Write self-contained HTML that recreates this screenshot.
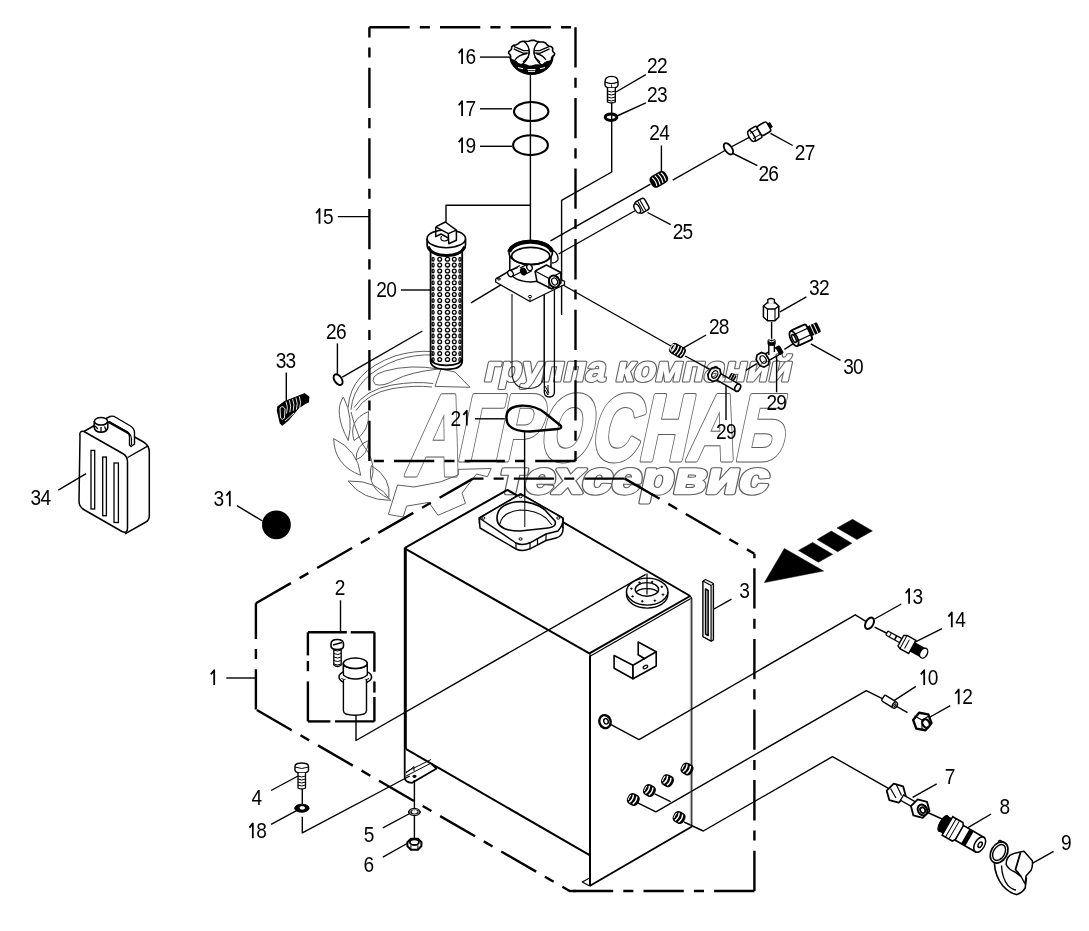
<!DOCTYPE html>
<html><head><meta charset="utf-8"><style>
html,body{margin:0;padding:0;background:#fff;}
svg{display:block;}
text{font-family:"Liberation Sans",sans-serif;fill:#000;}
</style></head><body>
<svg width="1089" height="931" viewBox="0 0 1089 931">
<rect width="1089" height="931" fill="#fff"/>
<line x1="369.4" y1="27.3" x2="575.5" y2="27.3" stroke="#000" stroke-width="2.4" stroke-dasharray="40.3 10.1 10.1 10.1" stroke-dashoffset="0"/>
<line x1="575.5" y1="27.3" x2="575.5" y2="461" stroke="#000" stroke-width="2.4" stroke-dasharray="40.3 10.1 10.1 10.1" stroke-dashoffset="0"/>
<line x1="575.5" y1="461" x2="369.4" y2="461" stroke="#000" stroke-width="2.4" stroke-dasharray="40.3 10.1 10.1 10.1" stroke-dashoffset="0"/>
<line x1="369.4" y1="461" x2="369.4" y2="27.3" stroke="#000" stroke-width="2.4" stroke-dasharray="40.3 10.1 10.1 10.1" stroke-dashoffset="0"/>
<line x1="255.9" y1="709.5" x2="255.9" y2="603.2" stroke="#000" stroke-width="2.4" stroke-dasharray="40.3 10.1 10.1 10.1" stroke-dashoffset="0"/>
<line x1="255.9" y1="603.2" x2="473" y2="478.6" stroke="#000" stroke-width="2.4" stroke-dasharray="40.3 10.1 10.1 10.1" stroke-dashoffset="0"/>
<line x1="624.7" y1="478.6" x2="473" y2="478.6" stroke="#000" stroke-width="2.4" stroke-dasharray="40.3 10.1 10.1 10.1" stroke-dashoffset="0"/>
<line x1="624.7" y1="478.6" x2="754.4" y2="553.7" stroke="#000" stroke-width="2.4" stroke-dasharray="40.3 10.1 10.1 10.1" stroke-dashoffset="0"/>
<line x1="754.4" y1="891" x2="754.4" y2="553.7" stroke="#000" stroke-width="2.4" stroke-dasharray="40.3 10.1 10.1 10.1" stroke-dashoffset="0"/>
<line x1="754.4" y1="891" x2="569.6" y2="891" stroke="#000" stroke-width="2.4" stroke-dasharray="40.3 10.1 10.1 10.1" stroke-dashoffset="0"/>
<line x1="255.9" y1="709.5" x2="569.6" y2="891" stroke="#000" stroke-width="2.4" stroke-dasharray="40.3 10.1 10.1 10.1" stroke-dashoffset="-1.1"/>
<line x1="569" y1="891" x2="576" y2="891" stroke="#000" stroke-width="2.4" />
<line x1="307.9" y1="632.3" x2="346.8" y2="632.3" stroke="#000" stroke-width="2.4" />
<line x1="350.7" y1="632.3" x2="374.4" y2="632.3" stroke="#000" stroke-width="2.4" />
<line x1="307.9" y1="632.3" x2="307.9" y2="655.4" stroke="#000" stroke-width="2.4" />
<line x1="307.9" y1="661" x2="307.9" y2="671.2" stroke="#000" stroke-width="2.4" />
<line x1="307.9" y1="681.4" x2="307.9" y2="721.4" stroke="#000" stroke-width="2.4" />
<line x1="374.4" y1="632.3" x2="374.4" y2="671.8" stroke="#000" stroke-width="2.4" />
<line x1="374.4" y1="681.4" x2="374.4" y2="692.6" stroke="#000" stroke-width="2.4" />
<line x1="374.4" y1="697" x2="374.4" y2="721.4" stroke="#000" stroke-width="2.4" />
<line x1="307.9" y1="721.4" x2="330.4" y2="721.4" stroke="#000" stroke-width="2.4" />
<line x1="335" y1="721.4" x2="374.4" y2="721.4" stroke="#000" stroke-width="2.4" />
<path d="M458.7 53.3 L462.1 49.1 V63.9" fill="none" stroke="#000" stroke-width="1.8" stroke-linejoin="round"/>
<text transform="translate(465.6 63.9) scale(0.85 1)" font-size="22.5">6</text>
<path d="M458.7 105.3 L462.1 101.1 V115.9" fill="none" stroke="#000" stroke-width="1.8" stroke-linejoin="round"/>
<text transform="translate(465.6 115.9) scale(0.85 1)" font-size="22.5">7</text>
<path d="M458.7 142.3 L462.1 138.1 V152.9" fill="none" stroke="#000" stroke-width="1.8" stroke-linejoin="round"/>
<text transform="translate(465.6 152.9) scale(0.85 1)" font-size="22.5">9</text>
<text transform="translate(647 73.1) scale(0.85 1)" font-size="22.5">2</text>
<text transform="translate(656.9 73.1) scale(0.85 1)" font-size="22.5">2</text>
<text transform="translate(647 101.8) scale(0.85 1)" font-size="22.5">2</text>
<text transform="translate(656.9 101.8) scale(0.85 1)" font-size="22.5">3</text>
<text transform="translate(649.3 140.4) scale(0.85 1)" font-size="22.5">2</text>
<text transform="translate(659.2 140.4) scale(0.85 1)" font-size="22.5">4</text>
<text transform="translate(794.8 159.6) scale(0.85 1)" font-size="22.5">2</text>
<text transform="translate(804.7 159.6) scale(0.85 1)" font-size="22.5">7</text>
<text transform="translate(758.4 180.8) scale(0.85 1)" font-size="22.5">2</text>
<text transform="translate(768.3 180.8) scale(0.85 1)" font-size="22.5">6</text>
<text transform="translate(672.7 238.8) scale(0.85 1)" font-size="22.5">2</text>
<text transform="translate(682.6 238.8) scale(0.85 1)" font-size="22.5">5</text>
<path d="M316.1 213.2 L319.5 209 V223.8" fill="none" stroke="#000" stroke-width="1.8" stroke-linejoin="round"/>
<text transform="translate(323 223.8) scale(0.85 1)" font-size="22.5">5</text>
<text transform="translate(376.3 297.2) scale(0.85 1)" font-size="22.5">2</text>
<text transform="translate(386.2 297.2) scale(0.85 1)" font-size="22.5">0</text>
<text transform="translate(326 338.9) scale(0.85 1)" font-size="22.5">2</text>
<text transform="translate(335.9 338.9) scale(0.85 1)" font-size="22.5">6</text>
<text transform="translate(275.7 368) scale(0.85 1)" font-size="22.5">3</text>
<text transform="translate(285.6 368) scale(0.85 1)" font-size="22.5">3</text>
<text transform="translate(30.6 504.5) scale(0.85 1)" font-size="22.5">3</text>
<text transform="translate(40.5 504.5) scale(0.85 1)" font-size="22.5">4</text>
<text transform="translate(213.5 506.3) scale(0.85 1)" font-size="22.5">3</text>
<path d="M226.4 495.7 L229.8 491.5 V506.3" fill="none" stroke="#000" stroke-width="1.8" stroke-linejoin="round"/>
<text transform="translate(450.5 425.5) scale(0.85 1)" font-size="22.5">2</text>
<path d="M463.4 414.9 L466.8 410.7 V425.5" fill="none" stroke="#000" stroke-width="1.8" stroke-linejoin="round"/>
<text transform="translate(708.9 333.9) scale(0.85 1)" font-size="22.5">2</text>
<text transform="translate(718.8 333.9) scale(0.85 1)" font-size="22.5">8</text>
<text transform="translate(809 295.3) scale(0.85 1)" font-size="22.5">3</text>
<text transform="translate(818.9 295.3) scale(0.85 1)" font-size="22.5">2</text>
<text transform="translate(843.2 373.6) scale(0.85 1)" font-size="22.5">3</text>
<text transform="translate(853.1 373.6) scale(0.85 1)" font-size="22.5">0</text>
<text transform="translate(716.1 438.6) scale(0.85 1)" font-size="22.5">2</text>
<text transform="translate(726 438.6) scale(0.85 1)" font-size="22.5">9</text>
<text transform="translate(766.4 410) scale(0.85 1)" font-size="22.5">2</text>
<text transform="translate(776.3 410) scale(0.85 1)" font-size="22.5">9</text>
<text transform="translate(334.7 594.5) scale(0.85 1)" font-size="22.5">2</text>
<path d="M210.8 674.4 L214.2 670.2 V685" fill="none" stroke="#000" stroke-width="1.8" stroke-linejoin="round"/>
<text transform="translate(739.3 598) scale(0.85 1)" font-size="22.5">3</text>
<text transform="translate(251.4 805) scale(0.85 1)" font-size="22.5">4</text>
<path d="M249.4 827.6 L252.8 823.4 V838.2" fill="none" stroke="#000" stroke-width="1.8" stroke-linejoin="round"/>
<text transform="translate(256.3 838.2) scale(0.85 1)" font-size="22.5">8</text>
<text transform="translate(363.8 841.5) scale(0.85 1)" font-size="22.5">5</text>
<text transform="translate(363.6 871.5) scale(0.85 1)" font-size="22.5">6</text>
<path d="M905.7 593.2 L909.1 589 V603.8" fill="none" stroke="#000" stroke-width="1.8" stroke-linejoin="round"/>
<text transform="translate(912.6 603.8) scale(0.85 1)" font-size="22.5">3</text>
<path d="M948.4 616.6 L951.8 612.4 V627.2" fill="none" stroke="#000" stroke-width="1.8" stroke-linejoin="round"/>
<text transform="translate(955.3 627.2) scale(0.85 1)" font-size="22.5">4</text>
<path d="M920.8 674.4 L924.2 670.2 V685" fill="none" stroke="#000" stroke-width="1.8" stroke-linejoin="round"/>
<text transform="translate(927.7 685) scale(0.85 1)" font-size="22.5">0</text>
<path d="M955.3 693.7 L958.7 689.5 V704.3" fill="none" stroke="#000" stroke-width="1.8" stroke-linejoin="round"/>
<text transform="translate(962.2 704.3) scale(0.85 1)" font-size="22.5">2</text>
<text transform="translate(944.8 783.8) scale(0.85 1)" font-size="22.5">7</text>
<text transform="translate(999.4 814) scale(0.85 1)" font-size="22.5">8</text>
<text transform="translate(1061.1 850) scale(0.85 1)" font-size="22.5">9</text>
<line x1="480" y1="57.1" x2="510" y2="57.1" stroke="#000" stroke-width="1.4" />
<line x1="480" y1="108.8" x2="512" y2="108.8" stroke="#000" stroke-width="1.4" />
<line x1="480" y1="146.3" x2="512" y2="146.3" stroke="#000" stroke-width="1.4" />
<line x1="616" y1="92" x2="645.8" y2="74.7" stroke="#000" stroke-width="1.4" />
<line x1="617" y1="116" x2="645.8" y2="102.9" stroke="#000" stroke-width="1.4" />
<line x1="661.4" y1="145.5" x2="661.4" y2="171.7" stroke="#000" stroke-width="1.4" />
<line x1="733" y1="153.5" x2="757.4" y2="165.7" stroke="#000" stroke-width="1.4" />
<line x1="770.5" y1="133.3" x2="792.7" y2="145.5" stroke="#000" stroke-width="1.4" />
<line x1="647.5" y1="212.5" x2="670.7" y2="224.6" stroke="#000" stroke-width="1.4" />
<line x1="337.8" y1="216.6" x2="369.4" y2="216.6" stroke="#000" stroke-width="1.4" />
<line x1="401" y1="290" x2="430.3" y2="290" stroke="#000" stroke-width="1.4" />
<line x1="337.4" y1="343.4" x2="337.4" y2="375" stroke="#000" stroke-width="1.4" />
<line x1="286.3" y1="372.4" x2="286.3" y2="401.9" stroke="#000" stroke-width="1.4" />
<line x1="58.3" y1="490.2" x2="86.1" y2="473.6" stroke="#000" stroke-width="1.4" />
<line x1="237" y1="505.7" x2="262.5" y2="521" stroke="#000" stroke-width="1.4" />
<line x1="475" y1="418.8" x2="504.8" y2="418.8" stroke="#000" stroke-width="1.4" />
<line x1="683" y1="348.2" x2="706.1" y2="335" stroke="#000" stroke-width="1.4" />
<line x1="780" y1="311.9" x2="806.4" y2="296.9" stroke="#000" stroke-width="1.4" />
<line x1="810.8" y1="343.8" x2="840.5" y2="360.4" stroke="#000" stroke-width="1.4" />
<line x1="726" y1="384.6" x2="726" y2="419.9" stroke="#000" stroke-width="1.4" />
<line x1="776.6" y1="353.7" x2="776.6" y2="392.3" stroke="#000" stroke-width="1.4" />
<line x1="340.5" y1="600.3" x2="340.5" y2="632.3" stroke="#000" stroke-width="1.4" />
<line x1="226.3" y1="678" x2="255.9" y2="678" stroke="#000" stroke-width="1.4" />
<line x1="712.2" y1="610" x2="731.5" y2="599.2" stroke="#000" stroke-width="1.4" />
<line x1="271.1" y1="790.5" x2="298" y2="776" stroke="#000" stroke-width="1.4" />
<line x1="271.1" y1="824.3" x2="297" y2="810.3" stroke="#000" stroke-width="1.4" />
<line x1="382.9" y1="827.9" x2="409.7" y2="813.5" stroke="#000" stroke-width="1.4" />
<line x1="382.9" y1="857.1" x2="409.7" y2="842" stroke="#000" stroke-width="1.4" />
<line x1="874.6" y1="619" x2="901.3" y2="604" stroke="#000" stroke-width="1.4" />
<line x1="914.5" y1="642.3" x2="942" y2="628.6" stroke="#000" stroke-width="1.4" />
<line x1="892.5" y1="701.6" x2="915.9" y2="686.4" stroke="#000" stroke-width="1.4" />
<line x1="928.3" y1="718" x2="950.3" y2="705.7" stroke="#000" stroke-width="1.4" />
<line x1="912.6" y1="797.4" x2="936.7" y2="783.8" stroke="#000" stroke-width="1.4" />
<line x1="965.4" y1="829.1" x2="991.1" y2="814" stroke="#000" stroke-width="1.4" />
<line x1="1026.4" y1="866.7" x2="1053.6" y2="851.3" stroke="#000" stroke-width="1.4" />
<polyline points="611.7,103 611.7,172 561.6,200.4 561.6,315" fill="none" stroke="#000" stroke-width="1.4" stroke-linejoin="round" />
<polyline points="530.4,75 530.4,253" fill="none" stroke="#000" stroke-width="1.4" stroke-linejoin="round" />
<polyline points="446,223.8 446,205.3 530.4,205.3" fill="none" stroke="#000" stroke-width="1.4" stroke-linejoin="round" />
<polyline points="650.5,184.2 550.5,240.8" fill="none" stroke="#000" stroke-width="1.4" stroke-linejoin="round" />
<polyline points="635.4,210.5 558.6,254" fill="none" stroke="#000" stroke-width="1.4" stroke-linejoin="round" />
<polyline points="725,150.5 672.7,180.2" fill="none" stroke="#000" stroke-width="1.4" stroke-linejoin="round" />
<polyline points="732,146.5 749.3,137.4" fill="none" stroke="#000" stroke-width="1.4" stroke-linejoin="round" />
<polyline points="342.3,377.2 422.4,331" fill="none" stroke="#000" stroke-width="1.4" stroke-linejoin="round" />
<polyline points="471,302.8 527.3,269" fill="none" stroke="#000" stroke-width="1.4" stroke-linejoin="round" />
<polyline points="563,285 670.9,346" fill="none" stroke="#000" stroke-width="1.4" stroke-linejoin="round" />
<polyline points="685.2,356 709.4,369.2" fill="none" stroke="#000" stroke-width="1.4" stroke-linejoin="round" />
<polyline points="745.8,370.3 756.8,363.7" fill="none" stroke="#000" stroke-width="1.4" stroke-linejoin="round" />
<polyline points="784.4,349.3 796.5,341.6" fill="none" stroke="#000" stroke-width="1.4" stroke-linejoin="round" />
<polyline points="771.6,321.8 771.6,340.5" fill="none" stroke="#000" stroke-width="1.4" stroke-linejoin="round" />
<polyline points="524.6,431.7 524.6,500" fill="none" stroke="#000" stroke-width="1.4" stroke-linejoin="round" />
<polyline points="356,715.3 356,740.5 645.7,574.3" fill="none" stroke="#000" stroke-width="1.4" stroke-linejoin="round" />
<polyline points="302.3,788.8 302.3,804" fill="none" stroke="#000" stroke-width="1.4" stroke-linejoin="round" />
<polyline points="302.3,816.7 302.3,832.9 409.7,776" fill="none" stroke="#000" stroke-width="1.4" stroke-linejoin="round" />
<polyline points="414.4,780 414.4,844.7" fill="none" stroke="#000" stroke-width="1.4" stroke-linejoin="round" />
<polyline points="609.6,723.8 639,739.6 855.3,614.8 866.3,621.7" fill="none" stroke="#000" stroke-width="1.4" stroke-linejoin="round" />
<polyline points="874.6,627.2 888.3,634" fill="none" stroke="#000" stroke-width="1.4" stroke-linejoin="round" />
<polyline points="637.8,802.8 655.9,811.8 866.3,690.6 882.8,698.8" fill="none" stroke="#000" stroke-width="1.4" stroke-linejoin="round" />
<polyline points="654.8,793.8 670.6,801.7" fill="none" stroke="#000" stroke-width="1.4" stroke-linejoin="round" />
<polyline points="895.2,705.7 907.6,712.6" fill="none" stroke="#000" stroke-width="1.4" stroke-linejoin="round" />
<polyline points="684,822 703.3,831 832.5,756.6 888.4,788.3" fill="none" stroke="#000" stroke-width="1.4" stroke-linejoin="round" />
<polyline points="927.7,812.5 944.3,820" fill="none" stroke="#000" stroke-width="1.4" stroke-linejoin="round" />
<polyline points="404.9,547.8 507.4,489.9 690.2,596" fill="none" stroke="#000" stroke-width="2.0" stroke-linejoin="round" />
<line x1="406" y1="549.2" x2="589.4" y2="653.3" stroke="#000" stroke-width="2.0" />
<line x1="589.4" y1="653.3" x2="690.2" y2="596" stroke="#000" stroke-width="2.0" />
<line x1="590.5" y1="656" x2="691.3" y2="598.2" stroke="#000" stroke-width="1.2" />
<line x1="589.4" y1="653.3" x2="590.5" y2="656" stroke="#000" stroke-width="1.2" />
<line x1="690.2" y1="596" x2="691.8" y2="598.4" stroke="#000" stroke-width="1.2" />
<line x1="405.3" y1="547.5" x2="405.3" y2="749.2" stroke="#000" stroke-width="3" />
<path d="M404.7 749 V777.5 Q405 782.5 412.1 782.8 L436.3 768.7 L431.6 763.9" fill="none" stroke="#000" stroke-width="1.8" stroke-linejoin="round" />
<line x1="405.6" y1="776.3" x2="430.4" y2="763.4" stroke="#000" stroke-width="1" />
<line x1="406" y1="772" x2="431" y2="759.5" stroke="#000" stroke-width="1" />
<polyline points="406,773 414,766.5 414,771" fill="none" stroke="#000" stroke-width="1" stroke-linejoin="round" />
<ellipse cx="414.5" cy="776.3" rx="1.5" ry="1" fill="#000" stroke="#000" stroke-width="1.2" />
<line x1="406.2" y1="749.2" x2="589.6" y2="855.1" stroke="#000" stroke-width="2.0" />
<line x1="590" y1="655.5" x2="590" y2="886" stroke="#000" stroke-width="2" />
<polyline points="590,877.7 582.3,882 589.6,886" fill="none" stroke="#000" stroke-width="1.2" stroke-linejoin="round" />
<line x1="589.6" y1="886" x2="692" y2="826.5" stroke="#000" stroke-width="2" />
<line x1="691.8" y1="598.2" x2="691.8" y2="826.5" stroke="#000" stroke-width="1.1" />
<line x1="690.3" y1="598.2" x2="690.3" y2="826.5" stroke="#666" stroke-width="0.6" />
<path d="M479.3 518 L520.6 494 L562.8 518 L563 528 Q563.5 536 556 538 L546 540.5 L530 548.8 Q522 552 516 549 L480 528 Z" fill="#fff" stroke="#000" stroke-width="1.5" stroke-linejoin="round" />
<path d="M479.3 518 L520.6 494 L562.8 518 Q564 524 558 531 L546 534 L530 542.8 Q522 546 516 543 Z" fill="#fff" stroke="#000" stroke-width="1.5" stroke-linejoin="round" />
<path d="M479.3 518 V524 M516 543 V549 M530 542.8 V548.8 M562.8 518 V528 M537.5 538 V544.8 M546 534 V540.5" fill="none" stroke="#000" stroke-width="1.2" stroke-linejoin="round" />
<path d="M497 518 Q497 505 515 502 Q532 500 545 510 L555 521 Q557 527 548 528 L520 531 Q497 531 497 518 Z" fill="#fff" stroke="#000" stroke-width="1.6" stroke-linejoin="round" />
<path d="M500 524 Q502 512 520 510 Q536 510 546 518 L552 525" fill="none" stroke="#000" stroke-width="1.1" stroke-linejoin="round" />
<ellipse cx="483.3" cy="518" rx="1.6" ry="1.2" fill="none" stroke="#000" stroke-width="1" />
<ellipse cx="520.6" cy="496.5" rx="1.6" ry="1.2" fill="none" stroke="#000" stroke-width="1" />
<ellipse cx="558.3" cy="518" rx="1.6" ry="1.2" fill="none" stroke="#000" stroke-width="1" />
<ellipse cx="520.6" cy="539" rx="1.6" ry="1.2" fill="none" stroke="#000" stroke-width="1" />
<line x1="524.8" y1="486.6" x2="524.8" y2="527" stroke="#000" stroke-width="1" />
<path d="M626.5 591.6 V594.6 A20.7 13.5 0 0 0 667.9 594.6 V591.6" fill="#fff" stroke="#000" stroke-width="1.4" stroke-linejoin="round" />
<ellipse cx="647.2" cy="591.6" rx="20.7" ry="13.5" fill="#fff" stroke="#000" stroke-width="1.4" />
<ellipse cx="646.9" cy="589.4" rx="11.7" ry="6.8" fill="none" stroke="#000" stroke-width="1.4" />
<path d="M636 592.5 A11.5 5.5 0 0 1 658 592.5" fill="none" stroke="#000" stroke-width="1.1" stroke-linejoin="round" />
<ellipse cx="663" cy="594.6" rx="0.9" ry="0.7" fill="#000" stroke="#000" stroke-width="0.8" />
<ellipse cx="654.9" cy="600.6" rx="0.9" ry="0.7" fill="#000" stroke="#000" stroke-width="0.8" />
<ellipse cx="642.3" cy="601.3" rx="0.9" ry="0.7" fill="#000" stroke="#000" stroke-width="0.8" />
<ellipse cx="632.6" cy="596.4" rx="0.9" ry="0.7" fill="#000" stroke="#000" stroke-width="0.8" />
<ellipse cx="631.4" cy="588.6" rx="0.9" ry="0.7" fill="#000" stroke="#000" stroke-width="0.8" />
<ellipse cx="639.5" cy="582.6" rx="0.9" ry="0.7" fill="#000" stroke="#000" stroke-width="0.8" />
<ellipse cx="652.1" cy="581.9" rx="0.9" ry="0.7" fill="#000" stroke="#000" stroke-width="0.8" />
<ellipse cx="661.8" cy="586.8" rx="0.9" ry="0.7" fill="#000" stroke="#000" stroke-width="0.8" />
<line x1="647" y1="573.5" x2="647" y2="594.6" stroke="#000" stroke-width="1.2" />
<polygon points="614.1,655.5 633,665.3 633,678.8 614.1,668.3" fill="#fff" stroke="#000" stroke-width="1.6" stroke-linejoin="round" />
<polygon points="633,665.3 656.2,651.7 656.2,666 633,678.8" fill="#fff" stroke="#000" stroke-width="1.6" stroke-linejoin="round" />
<polyline points="645,659 638.2,654.7 638.2,642 656.2,651.7" fill="none" stroke="#000" stroke-width="1.6" stroke-linejoin="round" />
<ellipse cx="645.4" cy="667" rx="2.5" ry="1.4" fill="none" stroke="#000" stroke-width="1.2" transform="rotate(-30 645.4 667)" />
<polyline points="702.9,581 702.9,636.7 711.1,641.2 713.4,640 713.4,583.5 705.5,579.5 702.9,581" fill="#fff" stroke="#000" stroke-width="1.4" stroke-linejoin="round" />
<line x1="711.1" y1="585.5" x2="711.1" y2="641.2" stroke="#000" stroke-width="1.2" />
<line x1="702.9" y1="581" x2="711.1" y2="585.5" stroke="#000" stroke-width="1.2" />
<line x1="711.1" y1="585.5" x2="713.4" y2="583.5" stroke="#000" stroke-width="1" />
<path d="M705.6 589 V634 L708.1 635.5 V590.5 Z" fill="none" stroke="#000" stroke-width="1.6" stroke-linejoin="round" />
<ellipse cx="605" cy="721.6" rx="5.6" ry="6.6" fill="#fff" stroke="#000" stroke-width="2.4" transform="rotate(-20 605 721.6)" />
<ellipse cx="606" cy="721.3" rx="2.2" ry="2.8" fill="none" stroke="#000" stroke-width="1.4" transform="rotate(-20 606 721.3)" />
<g transform="translate(687 769) rotate(28)">
<rect x="-6" y="-6" width="12" height="12" rx="4.5" fill="#000"/>
<path d="M-2.2 -4.3 Q0 0 -2.2 4.3 M1.6 -4.3 Q3.8 0 1.6 4.3" fill="none" stroke="#fff" stroke-width="1.5"/>
<path d="M-4.3 -2.8 Q-4.8 0 -4.3 2.8" fill="none" stroke="#fff" stroke-width="1.1"/>
</g>
<g transform="translate(667.5 780.7) rotate(28)">
<rect x="-6" y="-6" width="12" height="12" rx="4.5" fill="#000"/>
<path d="M-2.2 -4.3 Q0 0 -2.2 4.3 M1.6 -4.3 Q3.8 0 1.6 4.3" fill="none" stroke="#fff" stroke-width="1.5"/>
<path d="M-4.3 -2.8 Q-4.8 0 -4.3 2.8" fill="none" stroke="#fff" stroke-width="1.1"/>
</g>
<g transform="translate(649.4 790.5) rotate(28)">
<rect x="-6" y="-6" width="12" height="12" rx="4.5" fill="#000"/>
<path d="M-2.2 -4.3 Q0 0 -2.2 4.3 M1.6 -4.3 Q3.8 0 1.6 4.3" fill="none" stroke="#fff" stroke-width="1.5"/>
<path d="M-4.3 -2.8 Q-4.8 0 -4.3 2.8" fill="none" stroke="#fff" stroke-width="1.1"/>
</g>
<g transform="translate(633.3 799.5) rotate(28)">
<rect x="-6" y="-6" width="12" height="12" rx="4.5" fill="#000"/>
<path d="M-2.2 -4.3 Q0 0 -2.2 4.3 M1.6 -4.3 Q3.8 0 1.6 4.3" fill="none" stroke="#fff" stroke-width="1.5"/>
<path d="M-4.3 -2.8 Q-4.8 0 -4.3 2.8" fill="none" stroke="#fff" stroke-width="1.1"/>
</g>
<g transform="translate(679.1 817.5) rotate(28)">
<rect x="-6" y="-6" width="12" height="12" rx="4.5" fill="#000"/>
<path d="M-2.2 -4.3 Q0 0 -2.2 4.3 M1.6 -4.3 Q3.8 0 1.6 4.3" fill="none" stroke="#fff" stroke-width="1.5"/>
<path d="M-4.3 -2.8 Q-4.8 0 -4.3 2.8" fill="none" stroke="#fff" stroke-width="1.1"/>
</g>
<path d="M430.6 246 V361 Q431 369.3 446.3 369.3 Q462 369.3 462.2 361 V246" fill="#fff" stroke="#000" stroke-width="1.8" stroke-linejoin="round" />
<path d="M430.8 358.7 Q432 365.3 446.3 365.3 Q461 365.3 462 358.7" fill="none" stroke="#000" stroke-width="1.8" stroke-linejoin="round" />
<ellipse cx="433.1" cy="259.2" rx="1" ry="1.9" fill="none" stroke="#000" stroke-width="1.3" />
<ellipse cx="439.7" cy="259.2" rx="1.9" ry="1.9" fill="none" stroke="#000" stroke-width="1.3" />
<ellipse cx="447.5" cy="259.2" rx="2.1" ry="1.9" fill="none" stroke="#000" stroke-width="1.3" />
<ellipse cx="454.3" cy="259.2" rx="1.9" ry="1.9" fill="none" stroke="#000" stroke-width="1.3" />
<ellipse cx="459.9" cy="259.2" rx="1" ry="1.9" fill="none" stroke="#000" stroke-width="1.3" />
<ellipse cx="433.1" cy="265.1" rx="1" ry="1.9" fill="none" stroke="#000" stroke-width="1.3" />
<ellipse cx="439.7" cy="265.1" rx="1.9" ry="1.9" fill="none" stroke="#000" stroke-width="1.3" />
<ellipse cx="447.5" cy="265.1" rx="2.1" ry="1.9" fill="none" stroke="#000" stroke-width="1.3" />
<ellipse cx="454.3" cy="265.1" rx="1.9" ry="1.9" fill="none" stroke="#000" stroke-width="1.3" />
<ellipse cx="459.9" cy="265.1" rx="1" ry="1.9" fill="none" stroke="#000" stroke-width="1.3" />
<ellipse cx="433.1" cy="271" rx="1" ry="1.9" fill="none" stroke="#000" stroke-width="1.3" />
<ellipse cx="439.7" cy="271" rx="1.9" ry="1.9" fill="none" stroke="#000" stroke-width="1.3" />
<ellipse cx="447.5" cy="271" rx="2.1" ry="1.9" fill="none" stroke="#000" stroke-width="1.3" />
<ellipse cx="454.3" cy="271" rx="1.9" ry="1.9" fill="none" stroke="#000" stroke-width="1.3" />
<ellipse cx="459.9" cy="271" rx="1" ry="1.9" fill="none" stroke="#000" stroke-width="1.3" />
<ellipse cx="433.1" cy="276.9" rx="1" ry="1.9" fill="none" stroke="#000" stroke-width="1.3" />
<ellipse cx="439.7" cy="276.9" rx="1.9" ry="1.9" fill="none" stroke="#000" stroke-width="1.3" />
<ellipse cx="447.5" cy="276.9" rx="2.1" ry="1.9" fill="none" stroke="#000" stroke-width="1.3" />
<ellipse cx="454.3" cy="276.9" rx="1.9" ry="1.9" fill="none" stroke="#000" stroke-width="1.3" />
<ellipse cx="459.9" cy="276.9" rx="1" ry="1.9" fill="none" stroke="#000" stroke-width="1.3" />
<ellipse cx="433.1" cy="282.8" rx="1" ry="1.9" fill="none" stroke="#000" stroke-width="1.3" />
<ellipse cx="439.7" cy="282.8" rx="1.9" ry="1.9" fill="none" stroke="#000" stroke-width="1.3" />
<ellipse cx="447.5" cy="282.8" rx="2.1" ry="1.9" fill="none" stroke="#000" stroke-width="1.3" />
<ellipse cx="454.3" cy="282.8" rx="1.9" ry="1.9" fill="none" stroke="#000" stroke-width="1.3" />
<ellipse cx="459.9" cy="282.8" rx="1" ry="1.9" fill="none" stroke="#000" stroke-width="1.3" />
<ellipse cx="433.1" cy="288.7" rx="1" ry="1.9" fill="none" stroke="#000" stroke-width="1.3" />
<ellipse cx="439.7" cy="288.7" rx="1.9" ry="1.9" fill="none" stroke="#000" stroke-width="1.3" />
<ellipse cx="447.5" cy="288.7" rx="2.1" ry="1.9" fill="none" stroke="#000" stroke-width="1.3" />
<ellipse cx="454.3" cy="288.7" rx="1.9" ry="1.9" fill="none" stroke="#000" stroke-width="1.3" />
<ellipse cx="459.9" cy="288.7" rx="1" ry="1.9" fill="none" stroke="#000" stroke-width="1.3" />
<ellipse cx="433.1" cy="294.6" rx="1" ry="1.9" fill="none" stroke="#000" stroke-width="1.3" />
<ellipse cx="439.7" cy="294.6" rx="1.9" ry="1.9" fill="none" stroke="#000" stroke-width="1.3" />
<ellipse cx="447.5" cy="294.6" rx="2.1" ry="1.9" fill="none" stroke="#000" stroke-width="1.3" />
<ellipse cx="454.3" cy="294.6" rx="1.9" ry="1.9" fill="none" stroke="#000" stroke-width="1.3" />
<ellipse cx="459.9" cy="294.6" rx="1" ry="1.9" fill="none" stroke="#000" stroke-width="1.3" />
<ellipse cx="433.1" cy="300.5" rx="1" ry="1.9" fill="none" stroke="#000" stroke-width="1.3" />
<ellipse cx="439.7" cy="300.5" rx="1.9" ry="1.9" fill="none" stroke="#000" stroke-width="1.3" />
<ellipse cx="447.5" cy="300.5" rx="2.1" ry="1.9" fill="none" stroke="#000" stroke-width="1.3" />
<ellipse cx="454.3" cy="300.5" rx="1.9" ry="1.9" fill="none" stroke="#000" stroke-width="1.3" />
<ellipse cx="459.9" cy="300.5" rx="1" ry="1.9" fill="none" stroke="#000" stroke-width="1.3" />
<ellipse cx="433.1" cy="306.4" rx="1" ry="1.9" fill="none" stroke="#000" stroke-width="1.3" />
<ellipse cx="439.7" cy="306.4" rx="1.9" ry="1.9" fill="none" stroke="#000" stroke-width="1.3" />
<ellipse cx="447.5" cy="306.4" rx="2.1" ry="1.9" fill="none" stroke="#000" stroke-width="1.3" />
<ellipse cx="454.3" cy="306.4" rx="1.9" ry="1.9" fill="none" stroke="#000" stroke-width="1.3" />
<ellipse cx="459.9" cy="306.4" rx="1" ry="1.9" fill="none" stroke="#000" stroke-width="1.3" />
<ellipse cx="433.1" cy="312.3" rx="1" ry="1.9" fill="none" stroke="#000" stroke-width="1.3" />
<ellipse cx="439.7" cy="312.3" rx="1.9" ry="1.9" fill="none" stroke="#000" stroke-width="1.3" />
<ellipse cx="447.5" cy="312.3" rx="2.1" ry="1.9" fill="none" stroke="#000" stroke-width="1.3" />
<ellipse cx="454.3" cy="312.3" rx="1.9" ry="1.9" fill="none" stroke="#000" stroke-width="1.3" />
<ellipse cx="459.9" cy="312.3" rx="1" ry="1.9" fill="none" stroke="#000" stroke-width="1.3" />
<ellipse cx="433.1" cy="318.2" rx="1" ry="1.9" fill="none" stroke="#000" stroke-width="1.3" />
<ellipse cx="439.7" cy="318.2" rx="1.9" ry="1.9" fill="none" stroke="#000" stroke-width="1.3" />
<ellipse cx="447.5" cy="318.2" rx="2.1" ry="1.9" fill="none" stroke="#000" stroke-width="1.3" />
<ellipse cx="454.3" cy="318.2" rx="1.9" ry="1.9" fill="none" stroke="#000" stroke-width="1.3" />
<ellipse cx="459.9" cy="318.2" rx="1" ry="1.9" fill="none" stroke="#000" stroke-width="1.3" />
<ellipse cx="433.1" cy="324.1" rx="1" ry="1.9" fill="none" stroke="#000" stroke-width="1.3" />
<ellipse cx="439.7" cy="324.1" rx="1.9" ry="1.9" fill="none" stroke="#000" stroke-width="1.3" />
<ellipse cx="447.5" cy="324.1" rx="2.1" ry="1.9" fill="none" stroke="#000" stroke-width="1.3" />
<ellipse cx="454.3" cy="324.1" rx="1.9" ry="1.9" fill="none" stroke="#000" stroke-width="1.3" />
<ellipse cx="459.9" cy="324.1" rx="1" ry="1.9" fill="none" stroke="#000" stroke-width="1.3" />
<ellipse cx="433.1" cy="330" rx="1" ry="1.9" fill="none" stroke="#000" stroke-width="1.3" />
<ellipse cx="439.7" cy="330" rx="1.9" ry="1.9" fill="none" stroke="#000" stroke-width="1.3" />
<ellipse cx="447.5" cy="330" rx="2.1" ry="1.9" fill="none" stroke="#000" stroke-width="1.3" />
<ellipse cx="454.3" cy="330" rx="1.9" ry="1.9" fill="none" stroke="#000" stroke-width="1.3" />
<ellipse cx="459.9" cy="330" rx="1" ry="1.9" fill="none" stroke="#000" stroke-width="1.3" />
<ellipse cx="433.1" cy="335.9" rx="1" ry="1.9" fill="none" stroke="#000" stroke-width="1.3" />
<ellipse cx="439.7" cy="335.9" rx="1.9" ry="1.9" fill="none" stroke="#000" stroke-width="1.3" />
<ellipse cx="447.5" cy="335.9" rx="2.1" ry="1.9" fill="none" stroke="#000" stroke-width="1.3" />
<ellipse cx="454.3" cy="335.9" rx="1.9" ry="1.9" fill="none" stroke="#000" stroke-width="1.3" />
<ellipse cx="459.9" cy="335.9" rx="1" ry="1.9" fill="none" stroke="#000" stroke-width="1.3" />
<ellipse cx="433.1" cy="341.8" rx="1" ry="1.9" fill="none" stroke="#000" stroke-width="1.3" />
<ellipse cx="439.7" cy="341.8" rx="1.9" ry="1.9" fill="none" stroke="#000" stroke-width="1.3" />
<ellipse cx="447.5" cy="341.8" rx="2.1" ry="1.9" fill="none" stroke="#000" stroke-width="1.3" />
<ellipse cx="454.3" cy="341.8" rx="1.9" ry="1.9" fill="none" stroke="#000" stroke-width="1.3" />
<ellipse cx="459.9" cy="341.8" rx="1" ry="1.9" fill="none" stroke="#000" stroke-width="1.3" />
<ellipse cx="433.1" cy="347.7" rx="1" ry="1.9" fill="none" stroke="#000" stroke-width="1.3" />
<ellipse cx="439.7" cy="347.7" rx="1.9" ry="1.9" fill="none" stroke="#000" stroke-width="1.3" />
<ellipse cx="447.5" cy="347.7" rx="2.1" ry="1.9" fill="none" stroke="#000" stroke-width="1.3" />
<ellipse cx="454.3" cy="347.7" rx="1.9" ry="1.9" fill="none" stroke="#000" stroke-width="1.3" />
<ellipse cx="459.9" cy="347.7" rx="1" ry="1.9" fill="none" stroke="#000" stroke-width="1.3" />
<ellipse cx="433.1" cy="353.6" rx="1" ry="1.9" fill="none" stroke="#000" stroke-width="1.3" />
<ellipse cx="439.7" cy="353.6" rx="1.9" ry="1.9" fill="none" stroke="#000" stroke-width="1.3" />
<ellipse cx="447.5" cy="353.6" rx="2.1" ry="1.9" fill="none" stroke="#000" stroke-width="1.3" />
<ellipse cx="454.3" cy="353.6" rx="1.9" ry="1.9" fill="none" stroke="#000" stroke-width="1.3" />
<ellipse cx="459.9" cy="353.6" rx="1" ry="1.9" fill="none" stroke="#000" stroke-width="1.3" />
<ellipse cx="433.1" cy="359.5" rx="1" ry="1.9" fill="none" stroke="#000" stroke-width="1.3" />
<ellipse cx="439.7" cy="359.5" rx="1.9" ry="1.9" fill="none" stroke="#000" stroke-width="1.3" />
<ellipse cx="447.5" cy="359.5" rx="2.1" ry="1.9" fill="none" stroke="#000" stroke-width="1.3" />
<ellipse cx="454.3" cy="359.5" rx="1.9" ry="1.9" fill="none" stroke="#000" stroke-width="1.3" />
<ellipse cx="459.9" cy="359.5" rx="1" ry="1.9" fill="none" stroke="#000" stroke-width="1.3" />
<path d="M427.1 238.7 V245 Q428 255 446.3 255.5 Q464.5 255 465.5 245 V238.7" fill="#fff" stroke="#000" stroke-width="1.7" stroke-linejoin="round" />
<path d="M428 246.5 Q432 255.5 446.3 255.5 Q461 255.5 464.8 246.5" fill="none" stroke="#000" stroke-width="3" stroke-linejoin="round" />
<ellipse cx="446.3" cy="238.7" rx="19.2" ry="9" fill="#fff" stroke="#000" stroke-width="1.6" />
<polyline points="435.7,226.9 445.3,222 456.4,230.2 456.4,240.3 448.8,243.8 448.3,233.7 435.7,226.9" fill="#fff" stroke="#000" stroke-width="1.5" stroke-linejoin="round" />
<polyline points="435.7,226.9 435.7,236.7 441,234 448.3,238" fill="none" stroke="#000" stroke-width="1.5" stroke-linejoin="round" />
<line x1="448.3" y1="233.7" x2="456.4" y2="230.2" stroke="#000" stroke-width="1.4" />
<path d="M441.5 236 Q439.5 240.5 444 241 Q447 241 448.3 239.5" fill="none" stroke="#000" stroke-width="1.2" stroke-linejoin="round" />
<path d="M512 294 V372 Q512 388.5 528 388.5 Q544.3 388.5 544.3 372 V294" fill="#fff" stroke="#222" stroke-width="1.2" stroke-linejoin="round" />
<path d="M544.3 288 V392 Q544.3 397 549.4 397 Q554.4 397 554.4 392 V286" fill="#fff" stroke="#000" stroke-width="1.3" stroke-linejoin="round" />
<path d="M545 386 L549 393 M545 390 L548 395 M548 385 V395" fill="none" stroke="#000" stroke-width="1" stroke-linejoin="round" />
<polyline points="495.7,279 525,262 564.5,281.4 530,298.3 495.7,279" fill="#fff" stroke="#000" stroke-width="1.5" stroke-linejoin="round" />
<polyline points="495.7,279 495.7,282 530,301.5 564.5,284.5 564.5,281.4" fill="#fff" stroke="#000" stroke-width="1.3" stroke-linejoin="round" />
<line x1="530" y1="298.3" x2="530" y2="301.5" stroke="#000" stroke-width="1" />
<ellipse cx="499" cy="279" rx="1.4" ry="1" fill="none" stroke="#000" stroke-width="1" />
<ellipse cx="530" cy="296.5" rx="1.6" ry="1.1" fill="none" stroke="#000" stroke-width="1" />
<path d="M509.8 253 V270 Q511 281 530.7 282 Q545 281 551 275 V253" fill="#fff" stroke="#000" stroke-width="1.5" stroke-linejoin="round" />
<ellipse cx="530.7" cy="252.5" rx="21.7" ry="12" fill="#fff" stroke="#000" stroke-width="1.6" />
<path d="M509.2 252 A21.7 12 0 0 1 552.2 252" fill="none" stroke="#000" stroke-width="4" stroke-linejoin="round" />
<ellipse cx="530.7" cy="256" rx="19" ry="8.6" fill="none" stroke="#000" stroke-width="1.6" />
<path d="M552.7 250 Q559 254 557.8 260 Q556 263 552 263" fill="none" stroke="#000" stroke-width="1.3" stroke-linejoin="round" />
<polyline points="508,272 518,267.5" fill="none" stroke="#000" stroke-width="1" stroke-linejoin="round" />
<ellipse cx="510.5" cy="273.5" rx="2.6" ry="3.3" fill="#fff" stroke="#000" stroke-width="1.3" transform="rotate(-30 510.5 273.5)" />
<line x1="510" y1="270.5" x2="520" y2="265.5" stroke="#000" stroke-width="1.2" />
<line x1="512" y1="276.5" x2="522" y2="271.5" stroke="#000" stroke-width="1.2" />
<ellipse cx="523.4" cy="271.5" rx="2.6" ry="3.3" fill="#000" stroke="#000" stroke-width="1.3" transform="rotate(-30 523.4 271.5)" />
<line x1="520" y1="268" x2="528" y2="264" stroke="#000" stroke-width="1.3" />
<line x1="523.5" y1="275" x2="531.5" y2="271" stroke="#000" stroke-width="1.3" />
<ellipse cx="529.5" cy="267.5" rx="2.6" ry="3.3" fill="#fff" stroke="#000" stroke-width="1.3" transform="rotate(-30 529.5 267.5)" />
<polyline points="535,271 546.5,265 560.8,272.5 561,283 552,289 537,281.5 535,271" fill="#fff" stroke="#000" stroke-width="1.5" stroke-linejoin="round" />
<polyline points="535,271 549,278.5 560.8,272.5" fill="none" stroke="#000" stroke-width="1.3" stroke-linejoin="round" />
<line x1="549" y1="278.5" x2="549" y2="289" stroke="#000" stroke-width="1.2" />
<ellipse cx="554.3" cy="281.5" rx="5.2" ry="6.2" fill="#fff" stroke="#000" stroke-width="2" transform="rotate(-25 554.3 281.5)" />
<ellipse cx="554.6" cy="281.5" rx="2.8" ry="3.6" fill="none" stroke="#000" stroke-width="1.3" transform="rotate(-25 554.6 281.5)" />
<path d="M510 57 C510.5 67 521 74.5 531.5 74.5 C542 74.5 552.5 67 553 57 Z" fill="#000" stroke="#000" stroke-width="1.2" stroke-linejoin="round" />
<polygon points="554.6,53.3 554.4,55 552.5,56.5 551.6,58 551.5,59.8 549.8,61.2 546.9,61.9 544.8,63 543.1,64.6 540.4,65.3 537.2,65.1 534.4,65.4 531.6,66.3 528.6,66.2 526,65.1 523.3,64.6 520.1,64.6 517.6,63.6 516.3,61.9 514.4,60.7 511.7,59.8 510.4,58.3 510.7,56.5 510.2,54.9 508.6,53.3 508.8,51.6 510.7,50.1 511.6,48.6 511.7,46.8 513.4,45.4 516.3,44.7 518.4,43.6 520.1,42 522.8,41.3 526,41.5 528.8,41.2 531.6,40.3 534.6,40.4 537.2,41.5 539.9,42 543.1,42 545.6,43 546.9,44.7 548.8,45.9 551.5,46.8 552.8,48.3 552.5,50.1 553,51.7" fill="#fff" stroke="#000" stroke-width="1.6" stroke-linejoin="round" />
<path d="M518 67.5 L523 68.8 M527.5 69.5 L535.5 69.5 M540 68.8 L545 67.5" fill="none" stroke="#fff" stroke-width="1.1" stroke-linejoin="round" />
<path d="M528 71.3 L535 71.3" fill="none" stroke="#fff" stroke-width="1.1" stroke-linejoin="round" />
<path d="M523.8 41 Q529.5 46 529.3 52.5 Q529 58 522 65" fill="none" stroke="#000" stroke-width="1.5" stroke-linejoin="round" />
<path d="M539.4 41 Q533.7 46 533.9 52.5 Q534.2 58 541.2 65" fill="none" stroke="#000" stroke-width="1.5" stroke-linejoin="round" />
<path d="M513.7 46.3 L523.5 50.6 L529.3 50.6 M513.7 48.8 L523 53.2 L529.3 53.2" fill="none" stroke="#000" stroke-width="1.3" stroke-linejoin="round" />
<path d="M549.5 46.3 L539.7 50.6 L533.9 50.6 M549.5 48.8 L540.2 53.2 L533.9 53.2" fill="none" stroke="#000" stroke-width="1.3" stroke-linejoin="round" />
<path d="M515 60 Q518 55 527 53.5 M546 60 Q543 55 536.2 53.5" fill="none" stroke="#000" stroke-width="1.3" stroke-linejoin="round" />
<path d="M523 62 L528.5 57 M540 62 L534.5 57" fill="none" stroke="#000" stroke-width="1.2" stroke-linejoin="round" />
<ellipse cx="531.2" cy="111.5" rx="17.2" ry="9.5" fill="none" stroke="#000" stroke-width="2.1" />
<ellipse cx="530.5" cy="145.2" rx="17.4" ry="9.9" fill="none" stroke="#000" stroke-width="2.1" />
<path d="M506.5 418 Q506 406.5 521 405.7 Q535 405 545 413 L560.5 425.5 Q562.5 428.5 558 429 L530 431.5 Q506.5 431.5 506.5 418 Z" fill="none" stroke="#000" stroke-width="2.4" stroke-linejoin="round" />
<path d="M605 82 Q605 76.4 611.6 76.4 Q618 76.4 618 82 V85 Q618 88 611.6 88 Q605 88 605 85 Z" fill="#fff" stroke="#000" stroke-width="1.4" stroke-linejoin="round" />
<path d="M605 82 Q611.6 85 618 82" fill="none" stroke="#000" stroke-width="1.1" stroke-linejoin="round" />
<line x1="611.6" y1="84.5" x2="611.6" y2="88" stroke="#000" stroke-width="0.9" />
<path d="M607.5 88 V102 Q611.4 104 615.3 102 V88" fill="#fff" stroke="#000" stroke-width="1.4" stroke-linejoin="round" />
<path d="M607.5 91 Q611.4 93 615.3 91" fill="none" stroke="#000" stroke-width="1" stroke-linejoin="round" />
<path d="M607.5 94 Q611.4 96 615.3 94" fill="none" stroke="#000" stroke-width="1" stroke-linejoin="round" />
<path d="M607.5 97 Q611.4 99 615.3 97" fill="none" stroke="#000" stroke-width="1" stroke-linejoin="round" />
<path d="M607.5 100 Q611.4 102 615.3 100" fill="none" stroke="#000" stroke-width="1" stroke-linejoin="round" />
<ellipse cx="611" cy="117.2" rx="5.8" ry="3.3" fill="none" stroke="#000" stroke-width="3" />
<g transform="translate(658.8 179.3) rotate(-30)">
<rect x="-9" y="-6.5" width="18" height="13" rx="4.5" fill="#000"/>
<path d="M-5 -4.8 Q-3.2 0 -5 4.8 M-1.6 -5.2 Q0.2 0 -1.6 5.2 M1.8 -5.2 Q3.6 0 1.8 5.2 M5.2 -4.6 Q7 0 5.2 4.6" fill="none" stroke="#fff" stroke-width="1.2"/>
</g>
<g transform="translate(642.4 205.5) rotate(-30)">
<rect x="-6" y="-6.5" width="11" height="13" rx="3" fill="#fff" stroke="#000" stroke-width="1.5"/>
<line x1="-2" y1="-6" x2="-2" y2="6" stroke="#000" stroke-width="1.1"/><line x1="0.5" y1="-6" x2="0.5" y2="6" stroke="#000" stroke-width="1.1"/>
<ellipse cx="-6" cy="0" rx="2.5" ry="5" fill="#fff" stroke="#000" stroke-width="1.4"/>
</g>
<ellipse cx="728.4" cy="148.8" rx="6.5" ry="3.5" fill="none" stroke="#000" stroke-width="1.8" transform="rotate(55 728.4 148.8)" />
<g transform="translate(761 130.5) rotate(-30)">
<rect x="-11" y="-6.5" width="9" height="13" rx="1.5" fill="#fff" stroke="#000" stroke-width="1.6"/>
<rect x="-2" y="-5.5" width="11" height="11" rx="2.5" fill="#fff" stroke="#000" stroke-width="1.6"/>
<ellipse cx="-11" cy="0" rx="2.5" ry="6" fill="#fff" stroke="#000" stroke-width="1.5"/>
<line x1="-11" y1="-3" x2="-2" y2="-3" stroke="#000" stroke-width="1"/><line x1="-11" y1="3" x2="-2" y2="3" stroke="#000" stroke-width="1"/>
<rect x="9" y="-3" width="3" height="6" fill="#000"/>
</g>
<ellipse cx="338.1" cy="379.6" rx="6" ry="3.6" fill="none" stroke="#000" stroke-width="1.9" transform="rotate(55 338.1 379.6)" />
<polygon points="277.9,406.7 284.2,401.9 302.6,394.6 304.5,393.7 308.8,397 308.4,401.9 305.5,403.3 298.7,407.7 288,420.3 282.2,425.1 280.3,423.2 277.4,410.6" fill="#000" stroke="#000" stroke-width="1.2" stroke-linejoin="round" />
<path d="M286 401.5 Q288.5 407.5 286.5 413.5" fill="none" stroke="#fff" stroke-width="0.9" stroke-linejoin="round" />
<path d="M289.3 400.2 Q291.8 406.2 289.8 412.2" fill="none" stroke="#fff" stroke-width="0.9" stroke-linejoin="round" />
<path d="M292.6 398.9 Q295.1 404.9 293.1 410.9" fill="none" stroke="#fff" stroke-width="0.9" stroke-linejoin="round" />
<path d="M295.9 397.6 Q298.4 403.6 296.4 409.6" fill="none" stroke="#fff" stroke-width="0.9" stroke-linejoin="round" />
<path d="M299.2 396.3 Q301.7 402.3 299.7 408.3" fill="none" stroke="#fff" stroke-width="0.9" stroke-linejoin="round" />
<path d="M280 408 Q283 405 285 409 L284.5 418 Q282 421 280.5 418 Z" fill="none" stroke="#fff" stroke-width="0.9" stroke-linejoin="round" />
<path d="M285 421 L294 413" fill="none" stroke="#fff" stroke-width="0.9" stroke-linejoin="round" />
<circle cx="276.4" cy="524.8" r="14.4" fill="#000"/>
<polygon points="784.4,548.5 823.6,571 764.4,582.6" fill="#000" stroke="#000" stroke-width="0.5" stroke-linejoin="round" />
<polygon points="798.5,550.4 812.6,542.4 832.6,554.3 818.4,562.2" fill="#000" stroke="#000" stroke-width="0.5" stroke-linejoin="round" />
<polygon points="817.1,539.5 831.3,531.1 851.8,543.3 837.7,551.7" fill="#000" stroke="#000" stroke-width="0.5" stroke-linejoin="round" />
<polygon points="837.1,527.9 852.5,519.3 872.4,530.9 857,539.5" fill="#000" stroke="#000" stroke-width="0.5" stroke-linejoin="round" />
<path d="M80 436 Q79 430.5 84 431.5 L123.5 454 Q127.5 456.5 127.5 462 V528 Q127.5 534 122 531.5 L84.5 510 Q79 507 79 501 Z" fill="none" stroke="#000" stroke-width="1.5" stroke-linejoin="round" />
<path d="M84 431.5 L101.2 421.5 Q104 420 108 422 L143.5 442 Q149.3 445.5 149.3 452 V516 Q149.3 520.5 145 522.5 L125 533.8" fill="none" stroke="#000" stroke-width="1.5" stroke-linejoin="round" />
<path d="M127.6 457.5 L147.2 446.3" fill="none" stroke="#000" stroke-width="1.4" stroke-linejoin="round" />
<path d="M106 418.5 L110 416.5 Q113 415.5 116 417.5 L130.5 426 Q134.5 428.5 134.5 433 V444 L131 446.5 L129.5 445 V436.5 Q129.5 433 126.5 431.5 L109 421.5" fill="#fff" stroke="#000" stroke-width="1.4" stroke-linejoin="round" />
<path d="M109 421.5 L126 431 Q131.5 434 131.5 439 V445" fill="none" stroke="#000" stroke-width="1.1" stroke-linejoin="round" />
<path d="M94.2 421 V427.5 Q95 432 101 432.3 Q107 432 107.8 427.5 V421" fill="#fff" stroke="#000" stroke-width="1.5" stroke-linejoin="round" />
<ellipse cx="101" cy="421.3" rx="6.6" ry="3.8" fill="#fff" stroke="#000" stroke-width="1.5" />
<path d="M95 426 L98 429 M101 427 V432 M104.5 426.5 L106 430" fill="none" stroke="#000" stroke-width="1.3" stroke-linejoin="round" />
<rect x="91" y="450.4" width="3.700000000000003" height="58.60000000000002" fill="#fff" stroke="#000" stroke-width="1.3"/>
<rect x="102.7" y="457" width="3.700000000000003" height="58.700000000000045" fill="#fff" stroke="#000" stroke-width="1.3"/>
<rect x="114" y="463" width="4.400000000000006" height="59.5" fill="#fff" stroke="#000" stroke-width="1.3"/>
<path d="M343.4 663.3 V676 M367.3 663.3 V676" fill="none" stroke="#000" stroke-width="1.4" stroke-linejoin="round" />
<path d="M339 677 A16.3 7.6 0 0 1 371.6 677 A16.3 7.6 0 0 1 339 677 Z" fill="#fff" stroke="#000" stroke-width="1.5" stroke-linejoin="round" />
<path d="M341.5 678.5 Q355 686 369 678.5" fill="none" stroke="#000" stroke-width="1" stroke-linejoin="round" />
<path d="M343.4 680 V710.7 Q343.4 715.2 355 715.2 Q366.5 715.2 366.5 710.7 V680" fill="#fff" stroke="#000" stroke-width="1.4" stroke-linejoin="round" />
<path d="M343.4 663.3 V675 Q348 679 355.3 679 Q363 679 367.3 675 V663.3" fill="#fff" stroke="#000" stroke-width="1.4" stroke-linejoin="round" />
<ellipse cx="355.3" cy="663.3" rx="12" ry="5.2" fill="#fff" stroke="#000" stroke-width="1.5" />
<path d="M343.6 666 Q355.3 671.5 367 666" fill="none" stroke="#000" stroke-width="1.2" stroke-linejoin="round" />
<path d="M333.8 647 V665 Q337.5 668 341.2 665 V647" fill="#fff" stroke="#000" stroke-width="1.3" stroke-linejoin="round" />
<path d="M333.8 650 Q337.5 652 341.2 650" fill="none" stroke="#000" stroke-width="1" stroke-linejoin="round" />
<path d="M333.8 653.5 Q337.5 655.5 341.2 653.5" fill="none" stroke="#000" stroke-width="1" stroke-linejoin="round" />
<path d="M333.8 657 Q337.5 659 341.2 657" fill="none" stroke="#000" stroke-width="1" stroke-linejoin="round" />
<path d="M333.8 660.5 Q337.5 662.5 341.2 660.5" fill="none" stroke="#000" stroke-width="1" stroke-linejoin="round" />
<path d="M333.8 664 Q337.5 666 341.2 664" fill="none" stroke="#000" stroke-width="1" stroke-linejoin="round" />
<path d="M331 644 Q331 639.5 337.3 639.5 Q343.5 639.5 343.5 644 V646 Q343.5 649.5 337.3 649.5 Q331 649.5 331 646 Z" fill="#fff" stroke="#000" stroke-width="1.6" stroke-linejoin="round" />
<line x1="333" y1="645" x2="342" y2="642.5" stroke="#000" stroke-width="1.3" />
<path d="M295 766.5 Q295 763 301.7 763 Q308.5 763 308.5 766.5 V770 Q308.5 773 301.7 773 Q295 773 295 770 Z" fill="#fff" stroke="#000" stroke-width="1.4" stroke-linejoin="round" />
<path d="M295 767 Q301.7 770 308.5 767" fill="none" stroke="#000" stroke-width="1" stroke-linejoin="round" />
<path d="M298 773 V788 Q301.7 790 305.5 788 V773" fill="#fff" stroke="#000" stroke-width="1.3" stroke-linejoin="round" />
<path d="M298 776 Q301.7 778 305.5 776" fill="none" stroke="#000" stroke-width="1" stroke-linejoin="round" />
<path d="M298 779 Q301.7 781 305.5 779" fill="none" stroke="#000" stroke-width="1" stroke-linejoin="round" />
<path d="M298 782 Q301.7 784 305.5 782" fill="none" stroke="#000" stroke-width="1" stroke-linejoin="round" />
<path d="M298 785 Q301.7 787 305.5 785" fill="none" stroke="#000" stroke-width="1" stroke-linejoin="round" />
<ellipse cx="301.9" cy="808.2" rx="7.2" ry="4" fill="#000" stroke="#000" stroke-width="1" />
<ellipse cx="302.3" cy="807.9" rx="2.4" ry="1.3" fill="#fff" stroke="#fff" stroke-width="0.8" />
<ellipse cx="414.4" cy="812" rx="6" ry="3.6" fill="#000" stroke="#000" stroke-width="1" />
<ellipse cx="414.6" cy="811.8" rx="2.6" ry="1.4" fill="#fff" stroke="#fff" stroke-width="0.8" />
<ellipse cx="414.4" cy="812" rx="4.5" ry="2.6" fill="none" stroke="#fff" stroke-width="0.6" />
<g transform="translate(414.4 844.2)">
<path d="M-7 -2 L-3.5 -5.5 H3.5 L7 -2 V2 L3.5 5.5 H-3.5 L-7 2 Z" fill="#fff" stroke="#000" stroke-width="2"/>
<ellipse cx="0" cy="-2" rx="4.5" ry="2.8" fill="#fff" stroke="#000" stroke-width="1.8"/>
<line x1="-3.5" y1="1" x2="-3.5" y2="5.5" stroke="#000" stroke-width="1"/><line x1="3.5" y1="1" x2="3.5" y2="5.5" stroke="#000" stroke-width="1"/>
</g>
<g transform="translate(677.5 350.4) rotate(30)">
<rect x="-8" y="-5.8" width="16" height="11.6" rx="4" fill="#000"/>
<path d="M-4.5 -4.2 Q-2.8 0 -4.5 4.2 M-1.2 -4.6 Q0.5 0 -1.2 4.6 M2.1 -4.6 Q3.8 0 2.1 4.6 M5.2 -4 Q6.8 0 5.2 4" fill="none" stroke="#fff" stroke-width="1.1"/>
<ellipse cx="-6" cy="0" rx="1.3" ry="3.2" fill="none" stroke="#fff" stroke-width="0.9"/>
</g>
<g transform="translate(714.3 374.2) rotate(30)">
<rect x="0" y="-3.8" width="27" height="7.6" fill="#fff" stroke="#000" stroke-width="1.5"/>
<ellipse cx="27" cy="0" rx="2.6" ry="3.8" fill="#fff" stroke="#000" stroke-width="1.6"/>
<path d="M-5.5 -3.5 L-2.5 -7 H2.5 L5.5 -3.5 V3.5 L2.5 7 H-2.5 L-5.5 3.5 Z" fill="#fff" stroke="#000" stroke-width="1.7"/>
<ellipse cx="0.5" cy="0" rx="2.8" ry="4" fill="#fff" stroke="#000" stroke-width="1.2"/>
<rect x="14" y="-10" width="6.5" height="6.5" rx="1.5" fill="#000"/>
<line x1="16" y1="-10" x2="16" y2="-3.5" stroke="#fff" stroke-width="0.8"/><line x1="18.5" y1="-10" x2="18.5" y2="-3.5" stroke="#fff" stroke-width="0.8"/>
</g>
<g transform="translate(762.7 359.8) rotate(-30)">
<rect x="0" y="-3.8" width="20" height="7.6" fill="#fff" stroke="#000" stroke-width="1.5"/>
<rect x="17" y="-4.5" width="5" height="9" rx="1.5" fill="#000"/>
<path d="M-5.5 -3.5 L-2.5 -7 H2.5 L5.5 -3.5 V3.5 L2.5 7 H-2.5 L-5.5 3.5 Z" fill="#fff" stroke="#000" stroke-width="1.7"/>
<ellipse cx="0.5" cy="0" rx="2.8" ry="4" fill="#fff" stroke="#000" stroke-width="1.2"/>
</g>
<path d="M768.8 355 V345 H774.4 V352" fill="#fff" stroke="#000" stroke-width="1.4" stroke-linejoin="round" />
<rect x="767.5" y="339" width="8.2" height="6.5" rx="2" fill="#000"/>
<ellipse cx="771.6" cy="340.5" rx="2.5" ry="1.3" fill="none" stroke="#fff" stroke-width="1" />
<g transform="translate(806 333) rotate(-25) scale(1.2)">
<rect x="-11" y="-7" width="14" height="14" rx="2" fill="#fff" stroke="#000" stroke-width="1.6"/>
<ellipse cx="-11" cy="0" rx="2.8" ry="6.8" fill="#fff" stroke="#000" stroke-width="1.5"/>
<ellipse cx="-11" cy="0" rx="1.3" ry="3.6" fill="#fff" stroke="#000" stroke-width="1.2"/>
<line x1="-11" y1="-3" x2="3" y2="-3" stroke="#000" stroke-width="1"/><line x1="-11" y1="3" x2="3" y2="3" stroke="#000" stroke-width="1"/>
<rect x="3" y="-4.5" width="9" height="9" rx="1.5" fill="#000"/>
<line x1="6" y1="-4.5" x2="6" y2="4.5" stroke="#fff" stroke-width="0.8"/><line x1="9" y1="-4.5" x2="9" y2="4.5" stroke="#fff" stroke-width="0.8"/>
</g>
<path d="M763.4 306 V317 L767.5 320.7 H775 L778.8 317 V306" fill="#fff" stroke="#000" stroke-width="1.5" stroke-linejoin="round" />
<path d="M763.4 306 L767.5 302.5 H775 L778.8 306 L775 309 H767.5 Z" fill="#fff" stroke="#000" stroke-width="1.5" stroke-linejoin="round" />
<line x1="767.5" y1="309" x2="767.5" y2="320.7" stroke="#000" stroke-width="1.1" />
<line x1="775" y1="309" x2="775" y2="320.7" stroke="#000" stroke-width="1.1" />
<path d="M767.8 303.5 V299.5 Q771.1 297.5 774.4 299.5 V303.5" fill="#fff" stroke="#000" stroke-width="1.4" stroke-linejoin="round" />
<ellipse cx="869.5" cy="623.3" rx="6.2" ry="3.8" fill="none" stroke="#000" stroke-width="2" transform="rotate(-60 869.5 623.3)" />
<g transform="translate(886.8 633) rotate(28.6)">
<rect x="0" y="-2.3" width="16" height="4.6" rx="1" fill="#fff" stroke="#000" stroke-width="1.3"/>
<line x1="4" y1="-2.3" x2="4" y2="2.3" stroke="#000" stroke-width="1"/><line x1="10" y1="-2.3" x2="10" y2="2.3" stroke="#000" stroke-width="1.6"/>
<path d="M16 -6 L19 -7.5 L29 -7.5 L29 7.5 L19 7.5 L16 6 Z" fill="#fff" stroke="#000" stroke-width="1.4"/>
<line x1="19" y1="-7.5" x2="19" y2="7.5" stroke="#000" stroke-width="1"/><line x1="23" y1="-5" x2="23" y2="5" stroke="#000" stroke-width="1"/>
<rect x="29" y="-5.3" width="13" height="10.6" fill="#000"/>
<ellipse cx="42" cy="0" rx="3.6" ry="5.3" fill="#fff" stroke="#000" stroke-width="1.4"/>
</g>
<g transform="translate(883 697.7) rotate(32)">
<rect x="0" y="-3.4" width="14" height="6.8" rx="1.5" fill="#fff" stroke="#000" stroke-width="1.4"/>
<ellipse cx="14" cy="0" rx="2.2" ry="3.4" fill="#fff" stroke="#000" stroke-width="1.4"/>
<ellipse cx="14" cy="0" rx="0.9" ry="1.5" fill="#fff" stroke="#000" stroke-width="1"/>
</g>
<polygon points="931.5,723.1 925.5,730.2 916.3,728.6 913.1,719.9 919.1,712.8 928.3,714.4" fill="#fff" stroke="#000" stroke-width="2.4" stroke-linejoin="round" />
<path d="M914.5 716 L922 720 L929 716 M922 720 V729.5" fill="none" stroke="#000" stroke-width="1.1" stroke-linejoin="round" />
<ellipse cx="926" cy="723.5" rx="3.4" ry="4.4" fill="#fff" stroke="#000" stroke-width="2.2" transform="rotate(-30 926 723.5)" />
<polygon points="905.7,795.7 898.7,802.7 889.3,800.1 886.7,790.7 893.7,783.7 903.1,786.3" fill="#fff" stroke="#000" stroke-width="1.8" stroke-linejoin="round" />
<path d="M890.5 788.5 L896 798 M896.5 785 L901.5 795.5" fill="none" stroke="#000" stroke-width="1.2" stroke-linejoin="round" />
<g transform="translate(902 797.6) rotate(30)"><rect x="0" y="-3" width="13.5" height="6" fill="#fff" stroke="#000" stroke-width="1.3"/></g>
<polygon points="929.5,811.1 922.7,817.9 913.4,815.4 910.9,806.1 917.7,799.3 927,801.8" fill="#fff" stroke="#000" stroke-width="1.8" stroke-linejoin="round" />
<ellipse cx="922.5" cy="810" rx="4.6" ry="5.6" fill="#fff" stroke="#000" stroke-width="2" transform="rotate(-30 922.5 810)" />
<ellipse cx="922.7" cy="810.2" rx="2.4" ry="3" fill="#fff" stroke="#000" stroke-width="1.8" transform="rotate(-30 922.7 810.2)" />
<g transform="translate(941.5 822.5) rotate(30) scale(0.98 1.12)">
<ellipse cx="2" cy="0" rx="3.5" ry="8" fill="#000" stroke="#000" stroke-width="1"/>
<rect x="2" y="-8" width="6" height="16" fill="#000"/>
<path d="M7 -9.5 L19 -9.5 L21 -7 V7 L19 9.5 L7 9.5 Z" fill="#fff" stroke="#000" stroke-width="1.5"/>
<line x1="11" y1="-9.5" x2="11" y2="9.5" stroke="#000" stroke-width="1"/><line x1="15" y1="-9" x2="15" y2="9" stroke="#000" stroke-width="1"/>
<rect x="21" y="-7.5" width="24" height="15" fill="#fff" stroke="#000" stroke-width="1.5"/>
<rect x="28" y="-7.5" width="5" height="15" fill="#000"/>
<ellipse cx="45" cy="0" rx="5" ry="7.5" fill="#fff" stroke="#000" stroke-width="1.5"/>
<ellipse cx="45.5" cy="0" rx="1.8" ry="2.6" fill="#fff" stroke="#000" stroke-width="1.4"/>
</g>
<ellipse cx="999.1" cy="852.5" rx="8" ry="11.2" fill="#fff" stroke="#000" stroke-width="1.7" transform="rotate(30 999.1 852.5)" />
<ellipse cx="999.1" cy="852.5" rx="5.6" ry="8.6" fill="none" stroke="#000" stroke-width="1.4" transform="rotate(30 999.1 852.5)" />
<path d="M998 841.5 L1000 840.5 L1004 842.5" fill="none" stroke="#000" stroke-width="1.4" stroke-linejoin="round" />
<path d="M994.4 863.2 Q995 876 1003 886 Q1010 893.5 1016.9 894.6 Q1022 893 1025.2 888 L1026.5 877.5" fill="none" stroke="#000" stroke-width="1.6" stroke-linejoin="round" />
<path d="M1001.5 865.5 Q1002 878 1008 885.5 Q1013 890 1016 890" fill="none" stroke="#000" stroke-width="1.3" stroke-linejoin="round" />
<path d="M1006.2 864.4 Q1006 856 1013.3 853.7 Q1019 852 1024 851.3 L1032.3 860.8 Q1033 866 1031.1 870.3 L1026 876 L1025.2 884 L1021 876.5 L1015 872 Q1008 869 1006.2 864.4 Z" fill="#fff" stroke="#000" stroke-width="1.5" stroke-linejoin="round" />
<path d="M1020.5 852.5 L1015.5 869.5 L1021 876.5" fill="none" stroke="#000" stroke-width="1.8" stroke-linejoin="round" />
<mask id="wmm" maskUnits="userSpaceOnUse" x="0" y="0" width="1089" height="931"><text transform="translate(483.1 381.2) skewX(-12) scale(1.0337 1)" font-size="35.21" font-weight="bold" style="fill:#fff;stroke:#fff;stroke-width:3.2px;stroke-linejoin:round">группа компаний</text><text transform="translate(483.1 381.2) skewX(-12) scale(1.0337 1)" font-size="35.21" font-weight="bold" style="fill:#000;stroke:#000;stroke-width:1.2px;stroke-linejoin:round">группа компаний</text><text transform="translate(403.8 474.9) skewX(-12) scale(0.6612 1)" font-size="114.97" font-weight="bold" style="fill:#fff;stroke:#fff;stroke-width:5.2px;stroke-linejoin:round">А</text><text transform="translate(403.8 474.9) skewX(-12) scale(0.6612 1)" font-size="114.97" font-weight="bold" style="fill:#000;stroke:#000;stroke-width:3.2px;stroke-linejoin:round">А</text><text transform="translate(455.8 460.1) skewX(-12) scale(0.7135 1)" font-size="93.46" font-weight="bold" style="fill:#fff;stroke:#fff;stroke-width:5.2px;stroke-linejoin:round">ГРОСНАБ</text><text transform="translate(455.8 460.1) skewX(-12) scale(0.7135 1)" font-size="93.46" font-weight="bold" style="fill:#000;stroke:#000;stroke-width:3.2px;stroke-linejoin:round">ГРОСНАБ</text><text transform="translate(497.2 492.5) skewX(-12) scale(1.1936 1)" font-size="44.48" font-weight="bold" style="fill:#fff;stroke:#fff;stroke-width:4.4px;stroke-linejoin:round">техсервис</text><text transform="translate(497.2 492.5) skewX(-12) scale(1.1936 1)" font-size="44.48" font-weight="bold" style="fill:#000;stroke:#000;stroke-width:2.4px;stroke-linejoin:round">техсервис</text></mask>
<g style="mix-blend-mode:multiply">
<rect width="1089" height="931" fill="#5e5e5e" mask="url(#wmm)"/>
<path d="M343.4 397 Q333 412 348.2 440.5 Q354 418 343.4 397 Z" fill="none" stroke="#5e5e5e" stroke-width="1" stroke-linejoin="round" />
<path d="M333.7 438.6 Q334 465 360.7 475.3 Q358 450 333.7 438.6 Z" fill="none" stroke="#5e5e5e" stroke-width="1" stroke-linejoin="round" />
<path d="M348.2 481 Q362 500 390.7 500.4 Q378 480 348.2 481 Z" fill="none" stroke="#5e5e5e" stroke-width="1" stroke-linejoin="round" />
<path d="M354 440.5 Q348 420 368.5 411.5 Q370 432 354 440.5 Z" fill="none" stroke="#5e5e5e" stroke-width="1" stroke-linejoin="round" />
<path d="M356 459.8 Q356 445 368.5 440.5 Q368 455 356 459.8 Z" fill="none" stroke="#5e5e5e" stroke-width="1" stroke-linejoin="round" />
<path d="M371.4 465.6 Q366 488 388.8 498.5 Q392 478 371.4 465.6 Z" fill="none" stroke="#5e5e5e" stroke-width="1" stroke-linejoin="round" />
<path d="M348.2 407.6 Q350 372 395 356 Q415 350 433.2 351.6" fill="none" stroke="#5e5e5e" stroke-width="1" stroke-linejoin="round" />
<path d="M351 409.6 Q354 376 397 360 Q416 354 433.2 355" fill="none" stroke="#5e5e5e" stroke-width="1" stroke-linejoin="round" />
<path d="M375.2 384.4 Q368 376 385 371 Q410 364 439 369 Q410 372 395 380 Q383 387 375.2 384.4 Z" fill="none" stroke="#5e5e5e" stroke-width="1" stroke-linejoin="round" />
<path d="M354 407.6 Q365 390 392 385 Q415 381 433.2 383.5" fill="none" stroke="#5e5e5e" stroke-width="1" stroke-linejoin="round" />
<path d="M356 410.5 Q367 393 393 388.5 Q415 385 432 387" fill="none" stroke="#5e5e5e" stroke-width="1" stroke-linejoin="round" />
<path d="M351 412 Q358 440 368 452 Q376 466 371.4 480" fill="none" stroke="#5e5e5e" stroke-width="1" stroke-linejoin="round" />
<polyline points="435,386.4 441,369 455,372 470,387.3 435,386.4" fill="none" stroke="#5e5e5e" stroke-width="1" stroke-linejoin="round" />
<polyline points="388.4,514.4 397.5,485 414,487 440,482 458.2,475 458.2,469.4 491.2,468.5 487.5,476.7 476.5,474 462,493 465.5,503.4 438,515.3 428.8,502.4 406.7,506.1 403,517 388.4,514.4" fill="none" stroke="#5e5e5e" stroke-width="1" stroke-linejoin="round" />
</g>
</svg></body></html>
